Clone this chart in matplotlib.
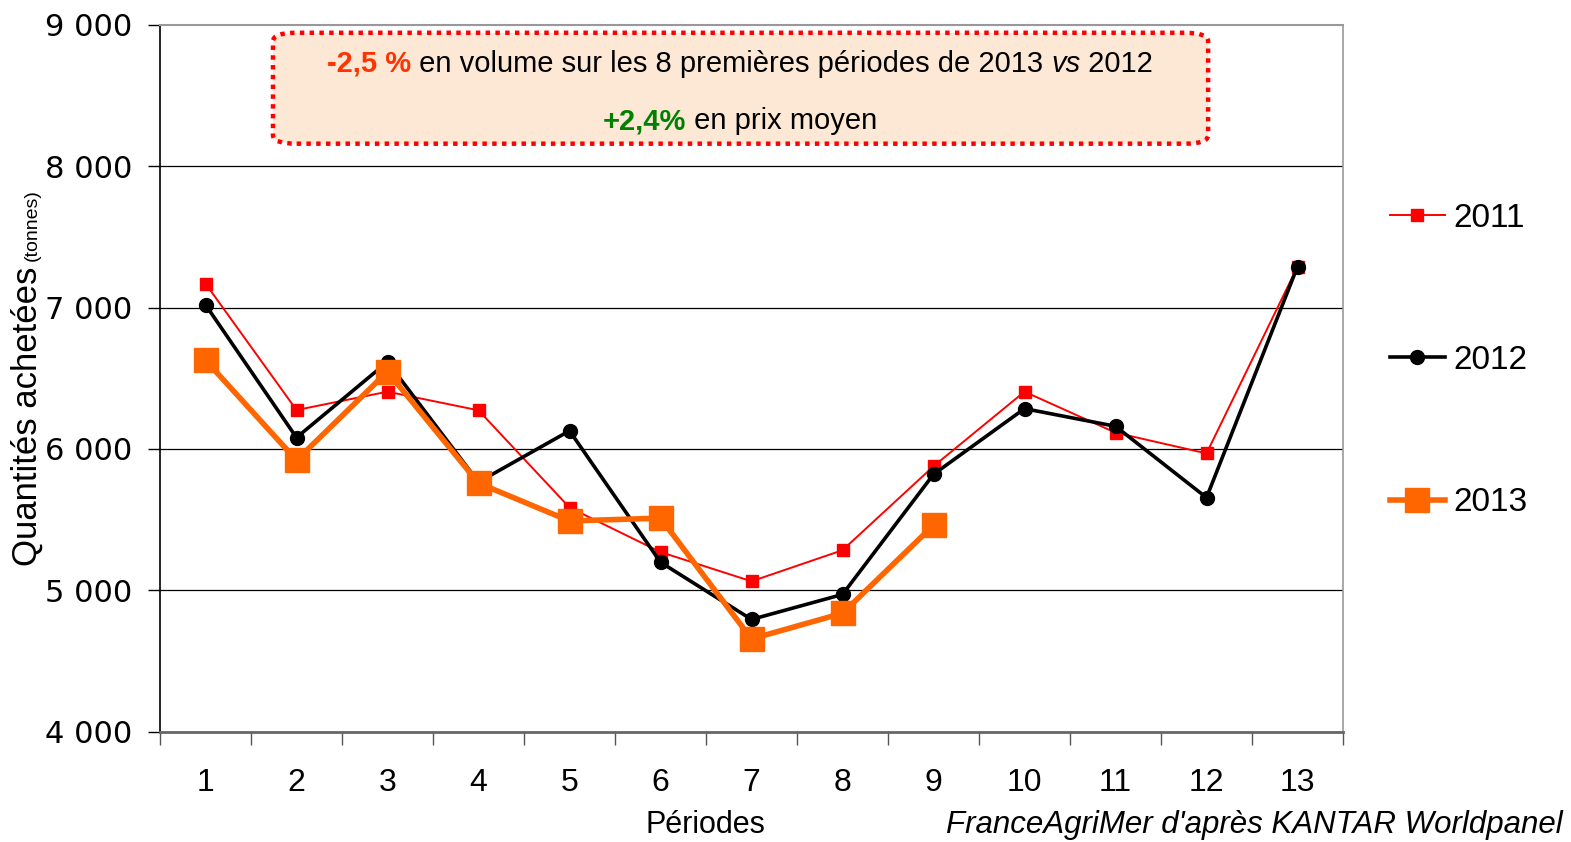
import matplotlib
matplotlib.use("Agg")
import matplotlib.pyplot as plt
from matplotlib.patches import FancyBboxPatch
from matplotlib.transforms import IdentityTransform
from matplotlib.ticker import FuncFormatter, FixedLocator

periods = list(range(1, 14))
period_labels = [str(p) for p in periods]
v2011 = [7170, 6275, 6405, 6273, 5585, 5270, 5063, 5283, 5877, 6405, 6115, 5968, 7290]
v2012 = [7020, 6080, 6616, 5765, 6128, 5198, 4793, 4970, 5820, 6285, 6160, 5655, 7290]
v2013 = [6628, 5920, 6547, 5758, 5490, 5510, 4655, 4837, 5460]
yticks = [4000, 5000, 6000, 7000, 8000, 9000]

W, H = 1571, 842
fig = plt.figure(figsize=(W / 100, H / 100), dpi=100)
ax = fig.add_axes([160 / W, 1 - 731.5 / H, (1343 - 160) / W, (731.5 - 25) / H])

FONT = "Liberation Sans"

for y in yticks[1:-1]:
    ax.axhline(y, color="black", lw=0.9, zorder=1)

ax.plot(periods, v2011, color="#FF0000", lw=1.4, marker="s", ms=9, mec="#FF0000",
        mfc="#FF0000", label="2011", zorder=3)
ax.plot(periods, v2012, color="black", lw=2.6, marker="o", ms=10, label="2012", zorder=4)
ax.plot(periods[:len(v2013)], v2013, color="#FF6600", lw=4, marker="s", ms=17,
        mec="#FF6600", mfc="#FF6600", label="2013", zorder=5)

ax.set_xlim(0.5, 13.5)
ax.set_ylim(4000, 9000)
ax.set_yticks(yticks)
ax.yaxis.set_major_formatter(FuncFormatter(lambda v, p: f"{int(v):,}".replace(",", " ")))
ax.set_xticks(periods)
ax.set_xticklabels(period_labels)
ax.xaxis.set_minor_locator(FixedLocator([p + 0.5 for p in range(0, 14)]))
ax.tick_params(axis="x", which="major", length=0, pad=26, labelsize=23)
ax.tick_params(axis="x", which="minor", length=9, width=1, color="#555555", direction="out")
ax.tick_params(axis="y", which="major", length=9, width=1, pad=11, labelsize=22)
for lab in ax.get_xticklabels():
    lab.set_fontfamily(FONT)
for lab in ax.get_yticklabels():
    lab.set_fontfamily("DejaVu Sans")

ax.spines["left"].set_color("black")
ax.spines["left"].set_linewidth(1.2)
ax.spines["bottom"].set_color("#666666")
ax.spines["bottom"].set_linewidth(2)
ax.spines["top"].set_color("#999999")
ax.spines["top"].set_linewidth(1.5)
ax.spines["right"].set_color("#999999")
ax.spines["right"].set_linewidth(1.2)

# legend
leg = ax.legend(loc="upper left", bbox_to_anchor=(1373 / W, 1 - 186 / H),
                bbox_transform=fig.transFigure, frameon=False,
                prop={"family": FONT, "size": 24}, labelspacing=3.34,
                handlelength=1.65, handletextpad=0.25, borderpad=0)

# annotation box
box = FancyBboxPatch((0.0955, 0.832), 0.7905, 0.157, boxstyle="round,pad=0,rounding_size=0.02",
                     transform=ax.transAxes, facecolor="#FDE8D6", edgecolor="#FF0000",
                     lw=3.2, linestyle=(0, (1, 1.2)), zorder=6, mutation_aspect=706.5 / 1183)
ax.add_patch(box)

fig.canvas.draw()
renderer = fig.canvas.get_renderer()


def seg_line(segments, xc, y_from_top, size):
    texts = []
    for s, kw in segments:
        t = fig.text(0, 0, s, transform=IdentityTransform(), fontsize=size,
                     family=FONT, va="baseline", ha="left", zorder=10, **kw)
        texts.append(t)
    widths = [t.get_window_extent(renderer).width for t in texts]
    x = xc - sum(widths) / 2
    for t, w in zip(texts, widths):
        t.set_position((x, H - y_from_top))
        x += w


seg_line([("-2,5 %", dict(color="#FF3300", weight="bold")),
          (" en volume sur les 8 premières périodes de 2013 ", dict(color="black")),
          ("vs", dict(color="black", style="italic")),
          (" 2012", dict(color="black"))], 740, 72, 21)
seg_line([("+2,4%", dict(color="#008000", weight="bold")),
          (" en prix moyen", dict(color="black"))], 740, 129, 21)

# axis labels
fig.text(705 / W, 1 - 825 / H, "Périodes", ha="center", va="center", fontsize=22, family=FONT)
fig.text(1563 / W, 1 - 825 / H, "FranceAgriMer d'après KANTAR Worldpanel", ha="right",
         va="center", fontsize=22.5, family=FONT, style="italic")

t1 = fig.text(37, H - 566, "Quantités achetées", rotation=90, ha="left", va="baseline",
              rotation_mode="anchor", fontsize=25, family=FONT, transform=IdentityTransform())
ext = t1.get_window_extent(renderer)
fig.text(37, ext.y1 + 6, "(tonnes)", rotation=90, ha="left", va="baseline",
         rotation_mode="anchor", fontsize=14, family=FONT, transform=IdentityTransform())

fig.savefig("out.png", dpi=100)
